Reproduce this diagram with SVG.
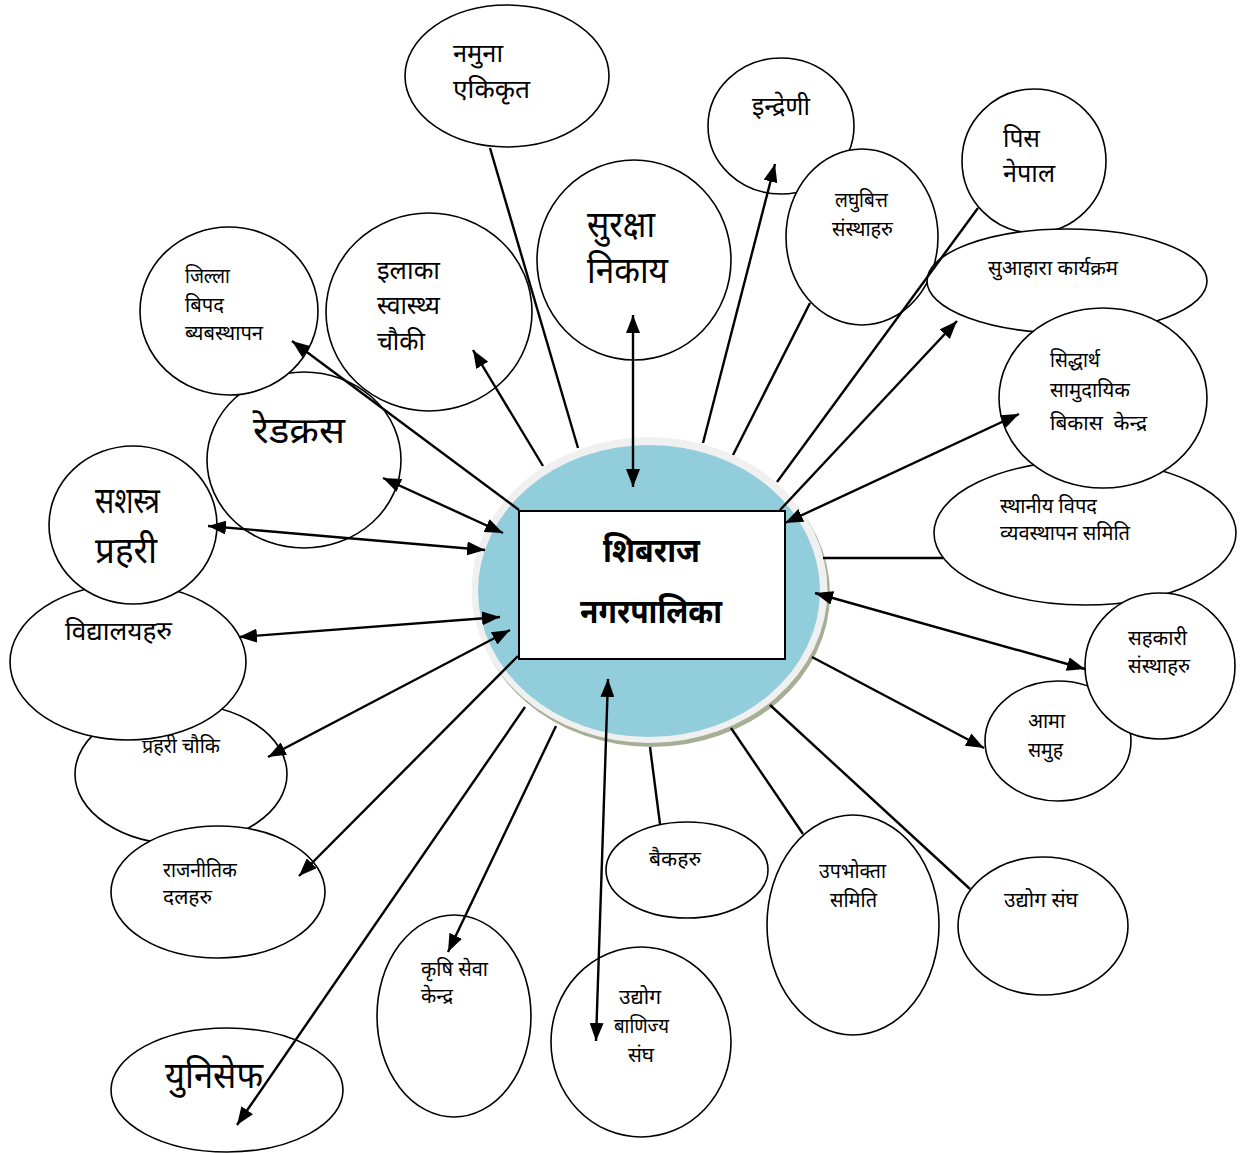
<svg xmlns="http://www.w3.org/2000/svg" width="1245" height="1153" viewBox="0 0 1245 1153">
<style>
.e{fill:#fff;stroke:#000;stroke-width:1.6}
.t{font-family:'Noto Sans',sans-serif;fill:#000}
.s{font-size:20px}
.m{font-size:26px}
.l{font-size:37px}
.b{font-size:34px;font-weight:bold}
.c line{stroke:#000;stroke-width:2.4}
</style>
<defs>
<marker id="ah" viewBox="0 0 18 14" refX="18" refY="7" markerWidth="18" markerHeight="14" markerUnits="userSpaceOnUse" orient="auto-start-reverse">
<path d="M0,0 L18,7 L0,14 z" fill="#000"/>
</marker>
</defs>
<rect width="1245" height="1153" fill="#fff"/>

<g id="center">
<ellipse cx="652" cy="594" rx="178" ry="153" fill="#a6ae95"/>
<ellipse cx="649.5" cy="590" rx="178" ry="153" fill="#f0f0f0"/>
<ellipse cx="649" cy="591" rx="171" ry="146" fill="#92cddc"/>
<rect x="519" y="511" width="266" height="148" fill="#fff" stroke="#000" stroke-width="2"/>
<text class="t b" x="603" y="562" textLength="97" lengthAdjust="spacingAndGlyphs">शिबराज</text>
<text class="t b" x="580" y="623" textLength="142" lengthAdjust="spacingAndGlyphs">नगरपालिका</text>
</g>

<g id="n-namuna"><ellipse class="e" cx="507" cy="76" rx="102" ry="71"/>
<text class="t m" x="453" y="62" textLength="50" lengthAdjust="spacingAndGlyphs">नमुना</text>
<text class="t m" x="453" y="98" textLength="77" lengthAdjust="spacingAndGlyphs">एकिकृत</text></g>

<g id="n-indreni"><ellipse class="e" cx="781" cy="126" rx="73" ry="68"/>
<text class="t m" x="752" y="115" textLength="58" lengthAdjust="spacingAndGlyphs">इन्द्रेणी</text></g>

<g id="n-laghubitta"><ellipse class="e" cx="862" cy="237" rx="76" ry="88"/>
<text class="t s" x="835" y="207" textLength="53" lengthAdjust="spacingAndGlyphs">लघुबित्त</text>
<text class="t s" x="832" y="236" textLength="61" lengthAdjust="spacingAndGlyphs">संस्थाहरु</text></g>

<g id="n-pis"><ellipse class="e" cx="1034" cy="161" rx="72" ry="72"/>
<text class="t m" x="1003" y="147" textLength="37" lengthAdjust="spacingAndGlyphs">पिस</text>
<text class="t m" x="1003" y="182" textLength="52" lengthAdjust="spacingAndGlyphs">नेपाल</text></g>

<g id="n-suahara"><ellipse class="e" cx="1067" cy="281" rx="140" ry="52"/>
<text class="t s" x="988" y="275" textLength="130" lengthAdjust="spacingAndGlyphs">सुआहारा कार्यक्रम</text></g>

<g id="n-sthaniya"><ellipse class="e" cx="1085" cy="533" rx="151" ry="72"/>
<text class="t s" x="1000" y="513" textLength="97" lengthAdjust="spacingAndGlyphs">स्थानीय विपद</text>
<text class="t s" x="1000" y="540" textLength="130" lengthAdjust="spacingAndGlyphs">व्यवस्थापन समिति</text></g>

<g id="n-siddhartha"><ellipse class="e" cx="1103" cy="398" rx="104" ry="90"/>
<text class="t s" x="1050" y="367" textLength="50" lengthAdjust="spacingAndGlyphs">सिद्धार्थ</text>
<text class="t s" x="1050" y="397" textLength="80" lengthAdjust="spacingAndGlyphs">सामुदायिक</text>
<text class="t s" x="1050" y="430" textLength="97" lengthAdjust="spacingAndGlyphs" xml:space="preserve">बिकास  केन्द्र</text></g>

<g id="n-ama"><ellipse class="e" cx="1058" cy="741" rx="73" ry="60"/>
<text class="t s" x="1028" y="728" textLength="37" lengthAdjust="spacingAndGlyphs">आमा</text>
<text class="t s" x="1028" y="757" textLength="35" lengthAdjust="spacingAndGlyphs">समुह</text></g>

<g id="n-sahakari"><ellipse class="e" cx="1160" cy="666" rx="75" ry="73"/>
<text class="t s" x="1128" y="645" textLength="59" lengthAdjust="spacingAndGlyphs">सहकारी</text>
<text class="t s" x="1128" y="673" textLength="62" lengthAdjust="spacingAndGlyphs">संस्थाहरु</text></g>

<g id="n-udyogsangh"><ellipse class="e" cx="1043" cy="926" rx="85" ry="69"/>
<text class="t s" x="1004" y="907" textLength="74" lengthAdjust="spacingAndGlyphs">उद्योग संघ</text></g>

<g id="n-upabhokta"><ellipse class="e" cx="853" cy="925" rx="86" ry="110"/>
<text class="t s" x="819" y="878" textLength="67" lengthAdjust="spacingAndGlyphs">उपभोक्ता</text>
<text class="t s" x="830" y="907" textLength="47" lengthAdjust="spacingAndGlyphs">समिति</text></g>

<g id="n-baikaharu"><ellipse class="e" cx="687" cy="870" rx="81" ry="48"/>
<text class="t s" x="649" y="866" textLength="52" lengthAdjust="spacingAndGlyphs">बैकहरु</text></g>

<g id="n-banijya"><ellipse class="e" cx="641" cy="1042" rx="90" ry="95"/>
<text class="t s" x="619" y="1004" textLength="42" lengthAdjust="spacingAndGlyphs">उद्योग</text>
<text class="t s" x="614" y="1033" textLength="55" lengthAdjust="spacingAndGlyphs">बाणिज्य</text>
<text class="t s" x="628" y="1062" textLength="26" lengthAdjust="spacingAndGlyphs">संघ</text></g>

<g id="n-krishi"><ellipse class="e" cx="454" cy="1016" rx="77" ry="101"/>
<text class="t s" x="421" y="976" textLength="67" lengthAdjust="spacingAndGlyphs">कृषि सेवा</text>
<text class="t s" x="421" y="1003" textLength="32" lengthAdjust="spacingAndGlyphs">केन्द्र</text></g>

<g id="n-unicef"><ellipse class="e" cx="227" cy="1090" rx="116" ry="62"/>
<text class="t l" x="165" y="1088" textLength="98" lengthAdjust="spacingAndGlyphs">युनिसेफ</text></g>

<g id="n-praharichauki"><ellipse class="e" cx="181" cy="774" rx="106" ry="70"/>
<text class="t s" x="142" y="753" textLength="78" lengthAdjust="spacingAndGlyphs">प्रहरी चौकि</text></g>

<g id="n-rajnitik"><ellipse class="e" cx="218" cy="892" rx="107" ry="66"/>
<text class="t s" x="163" y="877" textLength="74" lengthAdjust="spacingAndGlyphs">राजनीतिक</text>
<text class="t s" x="163" y="904" textLength="49" lengthAdjust="spacingAndGlyphs">दलहरु</text></g>

<g id="n-vidyalaya"><ellipse class="e" cx="128" cy="662" rx="118" ry="78"/>
<text class="t m" x="65" y="640" textLength="107" lengthAdjust="spacingAndGlyphs">विद्यालयहरु</text></g>

<g id="n-redcross"><ellipse class="e" cx="304" cy="460" rx="97" ry="88"/>
<text class="t l" x="253" y="443" textLength="92" lengthAdjust="spacingAndGlyphs">रेडक्रस</text></g>

<g id="n-sashastra"><ellipse class="e" cx="133" cy="525" rx="84" ry="79"/>
<text class="t l" x="95" y="513" textLength="65" lengthAdjust="spacingAndGlyphs">सशस्त्र</text>
<text class="t l" x="95" y="563" textLength="62" lengthAdjust="spacingAndGlyphs">प्रहरी</text></g>

<g id="n-jilla"><ellipse class="e" cx="229" cy="311" rx="89" ry="84"/>
<text class="t s" x="185" y="283" textLength="45" lengthAdjust="spacingAndGlyphs">जिल्ला</text>
<text class="t s" x="185" y="312" textLength="39" lengthAdjust="spacingAndGlyphs">बिपद</text>
<text class="t s" x="185" y="340" textLength="78" lengthAdjust="spacingAndGlyphs">ब्यबस्थापन</text></g>

<g id="n-ilaka"><ellipse class="e" cx="429" cy="312" rx="103" ry="99"/>
<text class="t m" x="377" y="279" textLength="63" lengthAdjust="spacingAndGlyphs">इलाका</text>
<text class="t m" x="377" y="314" textLength="63" lengthAdjust="spacingAndGlyphs">स्वास्थ्य</text>
<text class="t m" x="377" y="350" textLength="48" lengthAdjust="spacingAndGlyphs">चौकी</text></g>

<g id="n-suraksha"><ellipse class="e" cx="634" cy="260" rx="97" ry="100"/>
<text class="t l" x="587" y="237" textLength="68" lengthAdjust="spacingAndGlyphs">सुरक्षा</text>
<text class="t l" x="587" y="283" textLength="81" lengthAdjust="spacingAndGlyphs">निकाय</text></g>

<g id="connectors" class="c">
<line x1="578" y1="448" x2="490" y2="148"/>
<line x1="543" y1="466" x2="473" y2="350" marker-end="url(#ah)"/>
<line x1="519" y1="510" x2="292" y2="341" marker-end="url(#ah)"/>
<line x1="633" y1="487" x2="633" y2="315" marker-start="url(#ah)" marker-end="url(#ah)"/>
<line x1="703" y1="443" x2="775" y2="164" marker-end="url(#ah)"/>
<line x1="733" y1="455" x2="810" y2="303"/>
<line x1="777" y1="482" x2="978" y2="208"/>
<line x1="780" y1="510" x2="957" y2="321" marker-end="url(#ah)"/>
<line x1="785" y1="523" x2="1019" y2="414" marker-start="url(#ah)" marker-end="url(#ah)"/>
<line x1="823" y1="558" x2="943" y2="558"/>
<line x1="815" y1="593" x2="1085" y2="669" marker-start="url(#ah)" marker-end="url(#ah)"/>
<line x1="812" y1="657" x2="984" y2="748" marker-end="url(#ah)"/>
<line x1="770" y1="705" x2="970" y2="889"/>
<line x1="731" y1="728" x2="803" y2="834"/>
<line x1="650" y1="747" x2="660" y2="824"/>
<line x1="608" y1="679" x2="596" y2="1041" marker-start="url(#ah)" marker-end="url(#ah)"/>
<line x1="556" y1="726" x2="448" y2="952" marker-end="url(#ah)"/>
<line x1="525" y1="707" x2="237" y2="1125" marker-end="url(#ah)"/>
<line x1="518" y1="656" x2="299" y2="876" marker-end="url(#ah)"/>
<line x1="510" y1="630" x2="268" y2="757" marker-start="url(#ah)" marker-end="url(#ah)"/>
<line x1="500" y1="617" x2="239" y2="637" marker-start="url(#ah)" marker-end="url(#ah)"/>
<line x1="485" y1="550" x2="208" y2="526" marker-start="url(#ah)" marker-end="url(#ah)"/>
<line x1="503" y1="533" x2="383" y2="478" marker-start="url(#ah)" marker-end="url(#ah)"/>
</g>
</svg>
